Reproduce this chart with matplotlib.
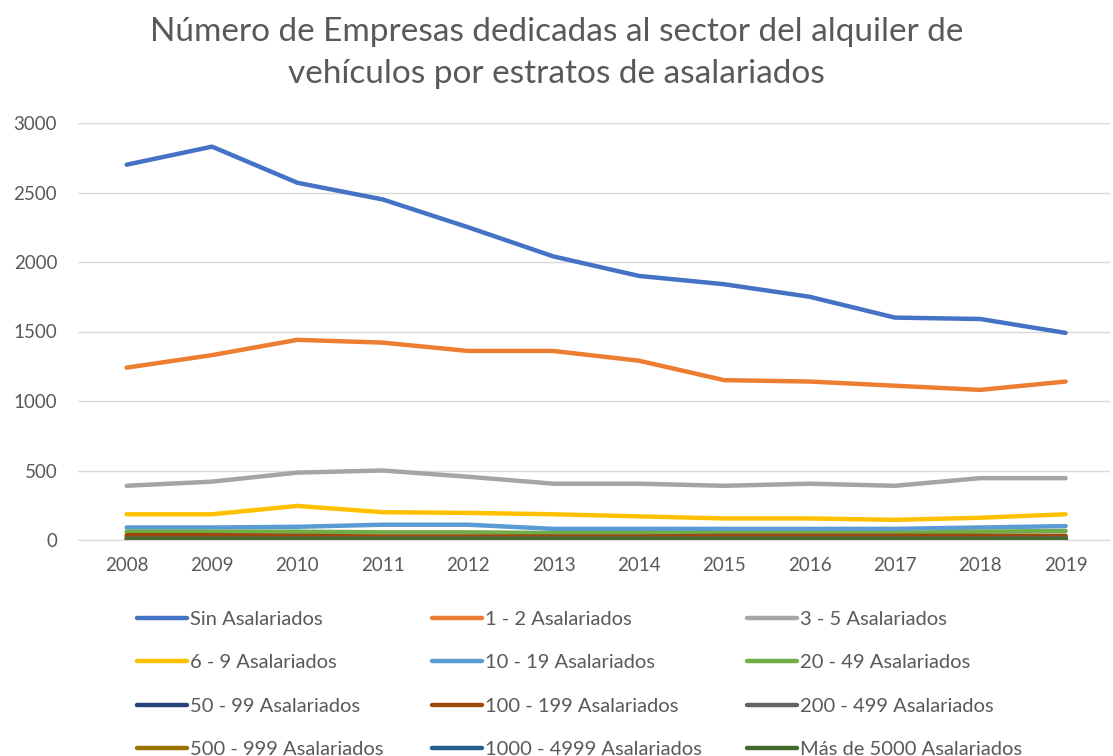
import matplotlib
matplotlib.use('Agg')
import matplotlib.pyplot as plt
import numpy as np

years = ['2008', '2009', '2010', '2011', '2012', '2013', '2014', '2015', '2016', '2017', '2018', '2019']

labels = ['Sin Asalariados', '1 - 2 Asalariados', '3 - 5 Asalariados',
          '6 - 9 Asalariados', '10 - 19 Asalariados', '20 - 49 Asalariados',
          '50 - 99 Asalariados', '100 - 199 Asalariados', '200 - 499 Asalariados',
          '500 - 999 Asalariados', '1000 - 4999 Asalariados', 'Más de 5000 Asalariados']

sin_asal = [2700, 2830, 2570, 2450, 2250, 2040, 1900, 1840, 1750, 1600, 1590, 1490]
asal_1_2 = [1240, 1330, 1440, 1420, 1360, 1360, 1290, 1150, 1140, 1110, 1080, 1140]
asal_3_5 = [390, 420, 485, 500, 455, 405, 405, 390, 405, 390, 445, 445]
asal_6_9 = [185, 185, 245, 200, 195, 185, 170, 155, 155, 145, 160, 185]
asal_10_19 = [90, 90, 95, 110, 110, 80, 80, 80, 80, 80, 90, 100]
asal_20_49 = [60, 60, 60, 55, 55, 50, 50, 50, 50, 50, 60, 65]
asal_50_99 = [20, 20, 20, 20, 20, 20, 20, 20, 20, 20, 20, 25]
asal_100_199 = [35, 35, 30, 25, 25, 25, 25, 30, 30, 30, 30, 30]
asal_200_499 = [10, 10, 10, 10, 10, 10, 10, 10, 10, 10, 10, 12]
asal_500_999 = [4, 4, 4, 4, 4, 4, 4, 4, 4, 4, 4, 5]
asal_1000_4999 = [3, 3, 3, 3, 3, 3, 3, 3, 3, 3, 3, 3]
asal_5000 = [8, 8, 8, 8, 8, 8, 8, 8, 8, 8, 8, 8]

series = [sin_asal, asal_1_2, asal_3_5, asal_6_9, asal_10_19, asal_20_49,
          asal_50_99, asal_100_199, asal_200_499, asal_500_999, asal_1000_4999, asal_5000]

colors = ['#4472C4', '#ED7D31', '#A5A5A5', '#FFC000', '#5B9BD5', '#70AD47',
          '#264478', '#9E480E', '#636363', '#997300', '#255E91', '#43682B']

plt.rcParams['font.family'] = ['Lato', 'DejaVu Sans']
txt = '#595959'

fig = plt.figure(figsize=(11.13, 7.56), dpi=100)
ax = fig.add_axes([78 / 1113, 1 - 540 / 756, 1032 / 1113, 417 / 756])

x = np.arange(len(years))
lines = []
for vals, lab, c in zip(series, labels, colors):
    ln, = ax.plot(x, vals, color=c, lw=3.2, label=lab, solid_capstyle='round')
    lines.append(ln)

ax.set_xlim(-0.57, len(years) - 0.48)
ax.set_ylim(0, 3000)
ax.set_yticks(np.arange(0, 3001, 500))
ax.set_xticks(x)
ax.set_xticklabels(years)
ax.tick_params(axis='both', length=0, colors=txt, labelsize=13.5)
ax.tick_params(axis='y', pad=15)
ax.tick_params(axis='x', pad=12)
ax.grid(axis='y', color='#D9D9D9', lw=1)
ax.set_axisbelow(True)
for s in ['top', 'right', 'left']:
    ax.spines[s].set_visible(False)
ax.spines['bottom'].set_color('#D9D9D9')

fig.suptitle('Número de Empresas dedicadas al sector del alquiler de\nvehículos por estratos de asalariados',
             fontsize=24, color=txt, y=0.978, linespacing=1.5)

# one legend per column so the column positions follow the reference
col_x = [137, 432, 747]
for j, cx in enumerate(col_x):
    idx = [j, j + 3, j + 6, j + 9]
    fig.legend([lines[i] for i in idx], [labels[i] for i in idx],
               loc='upper left', bbox_to_anchor=((cx - 8) / 1113, 1 - 603 / 756),
               ncol=1, frameon=False, fontsize=14.5, labelcolor=txt,
               handlelength=2.5, handletextpad=0.15, labelspacing=1.3,
               borderpad=0.4, borderaxespad=0)

plt.savefig('out.png', dpi=100)
